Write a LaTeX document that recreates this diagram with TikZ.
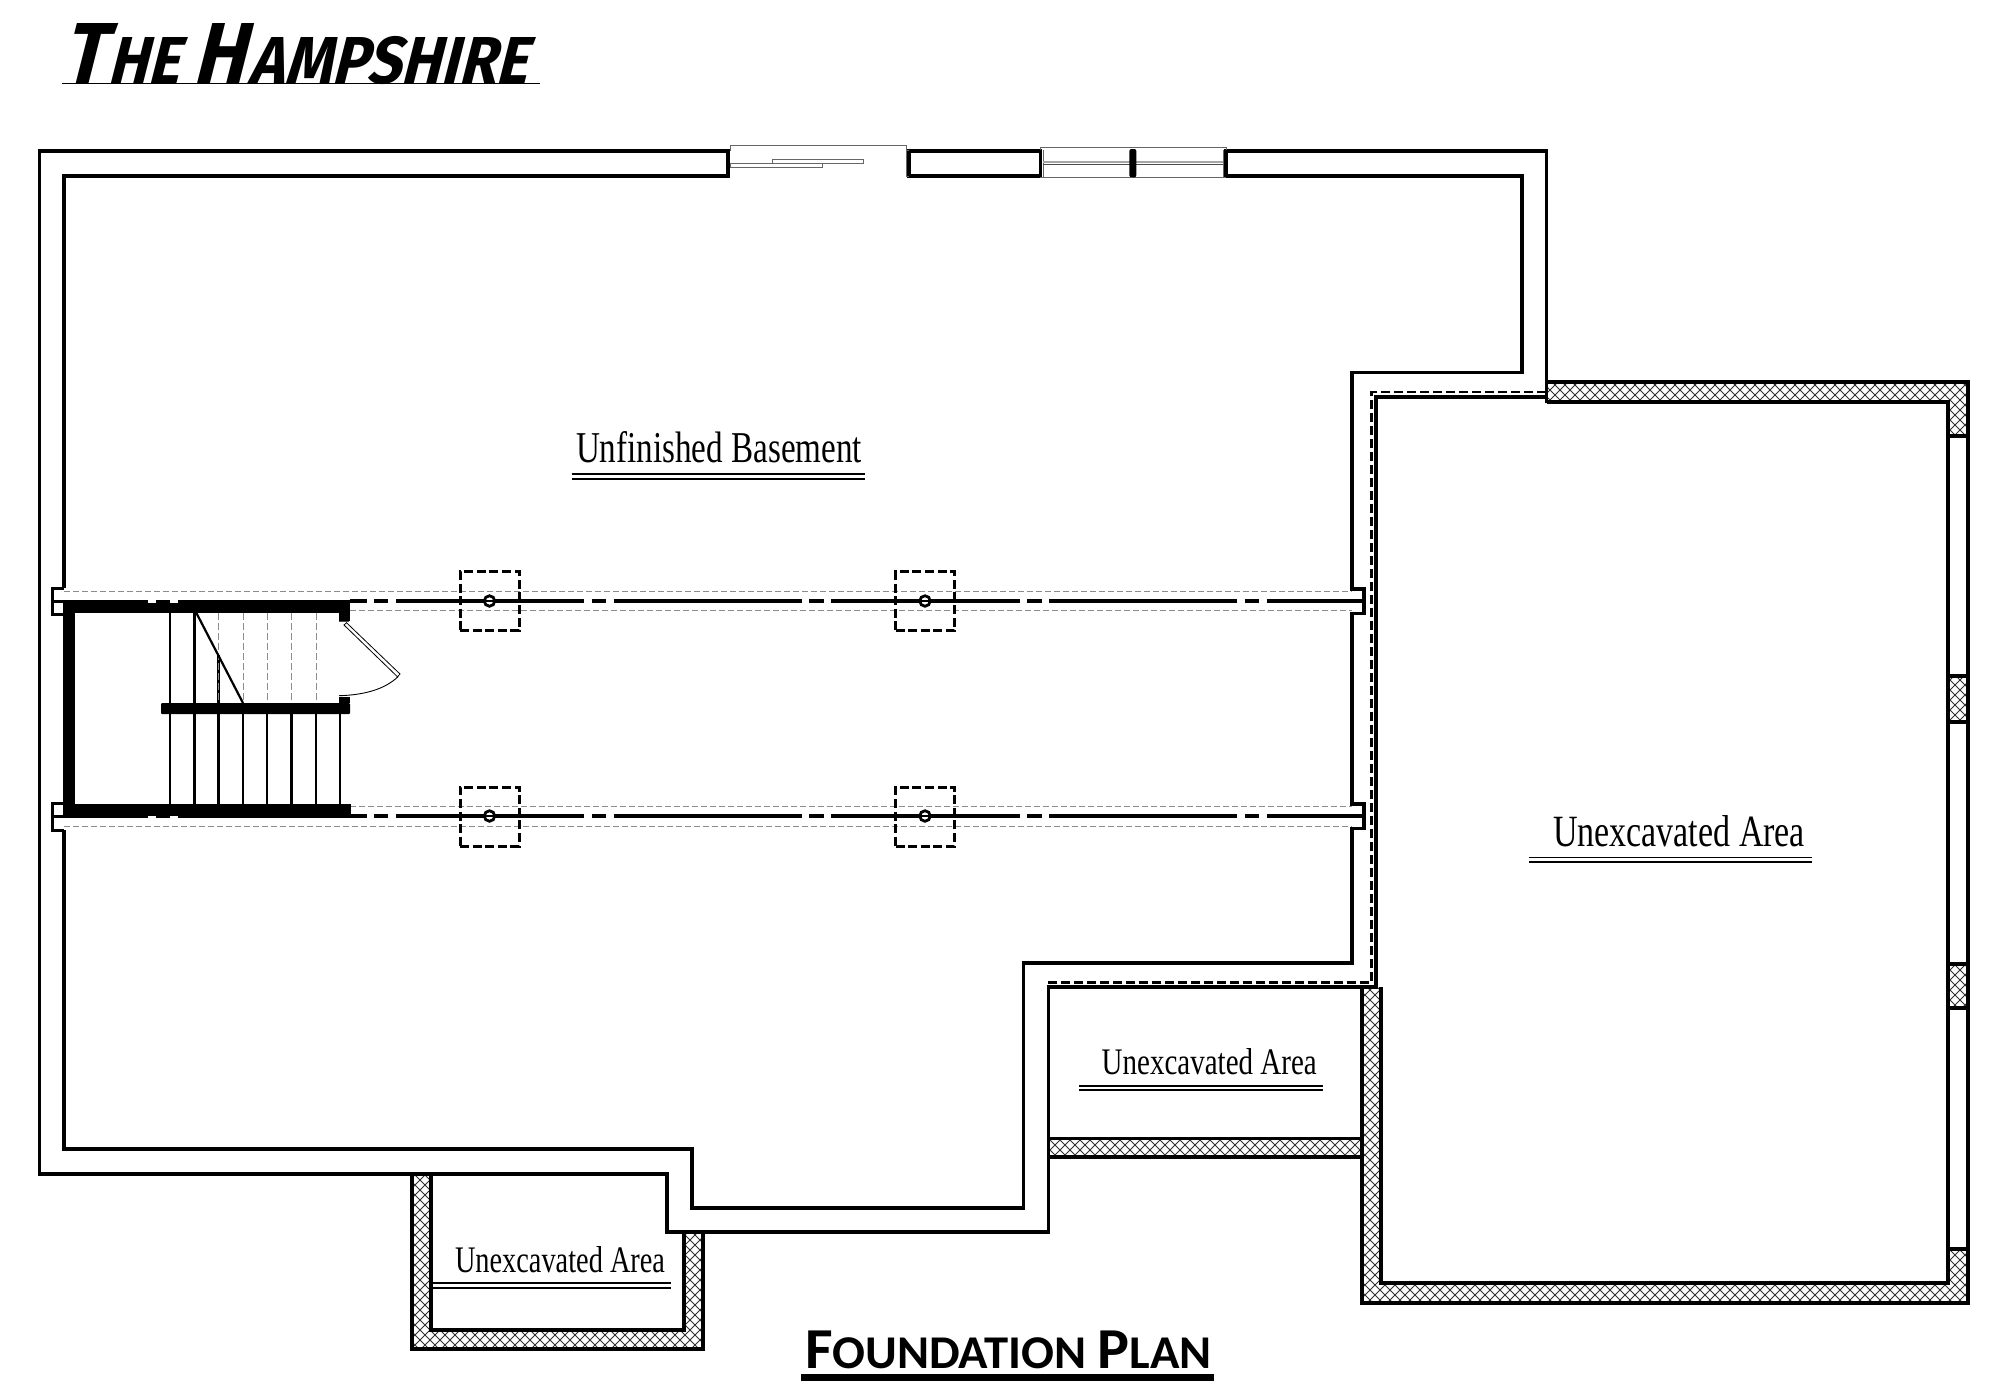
\documentclass[tikz,border=0pt]{standalone}
\usepackage{fontspec}
\setmainfont{Liberation Serif}
\newfontfamily\titlefont[FakeSlant=0.28]{Fira Sans}
\newfontfamily\planfont{Carlito}
\tikzset{
  wall/.style={line width=3.6pt,line join=miter,line cap=butt},
  thickcross/.style={line width=4.2pt},
  hatchline/.style={line width=0.9pt,black!80},
  thin grey/.style={line width=1pt,black!60},
  greydash/.style={line width=1pt,black!45,dash pattern=on 6pt off 3pt},
  beam/.style={line width=3.6pt,dash pattern=on 188.3pt off 7.4pt on 14.4pt off 7.6pt,dash phase=171.7pt},
  postbox/.style={draw,line width=3pt,dash pattern=on 9pt off 3.6pt,minimum width=59pt,minimum height=59pt,inner sep=0pt},
  postdot/.style={draw,circle,line width=2.8pt,minimum size=10.5pt,inner sep=0pt},
  bardark/.style={fill=black,draw=none},
  tread/.style={line width=2.9pt},
  uptread/.style={line width=1pt,black!45,dash pattern=on 7pt off 3pt},
  dbl/.style={line width=1.9pt},
  roomlabel/.style={anchor=base west,inner sep=0pt,outer sep=0pt},
}
\newcommand{\roomtext}[3]{\resizebox{#1pt}{#2pt}{#3}}
\begin{document}
\begin{tikzpicture}[x=1pt,y=-1pt]
\useasboundingbox (0,0) rectangle (2001,1398);
\fill[white] (0,0) rectangle (2001,1398);

% hatching
\begin{scope}
\clip (1546.5,381.7) rectangle (1968,401.7)
      (1948,401.7) rectangle (1968,436)
      (1948,675.7) rectangle (1968,721.7)
      (1948,963.6) rectangle (1968,1008)
      (1948,1249) rectangle (1968,1303)
      (1361.7,1283) rectangle (1968,1303)
      (1361.7,986.7) rectangle (1381,1303)
      (1048,1138.3) rectangle (1361.7,1156.7)
      (411.7,1174) rectangle (430.7,1349)
      (411.7,1330) rectangle (703,1349)
      (684,1232) rectangle (703,1349);
\foreach \d in {-1000,-990,...,2000}{
  \draw[hatchline] (\d,300) -- ({\d+1100},1400);
  \draw[hatchline] ({\d+1100},300) -- (\d,1400);
}
\end{scope}

% main foundation wall
\draw[wall] (64,588) -- (64,175.7) -- (728,175.7) -- (728,151) -- (39.6,151) -- (39.6,1174)
  -- (667,1174) -- (667,1232) -- (1048.3,1232) -- (1048.3,986.7) -- (1376,986.7) -- (1376,396.7)
  -- (1546.5,396.7);
\draw[wall] (1546.5,403.4) -- (1546.5,151) -- (1226,151) -- (1226,175.7) -- (1522,175.7) -- (1522,372.3)
  -- (1351.7,372.3) -- (1351.7,589) -- (1364,589) -- (1364,613.3) -- (1351.7,613.3)
  -- (1351.7,804) -- (1364,804) -- (1364,828.5) -- (1351.7,828.5)
  -- (1351.7,962.7) -- (1023.3,962.7) -- (1023.3,1207.7) -- (692,1207.7) -- (692,1149) -- (64,1149) -- (64,830);
\draw[wall] (909,151) rectangle (1040.6,175.7);

% beam pockets on the left
\draw[line width=3pt] (64,588) -- (52,588) -- (52,614) -- (62.5,614);
\draw[line width=3pt] (62.5,803) -- (52,803) -- (52,830) -- (64,830);
\draw[line width=3pt] (52,601) -- (62.5,601);
\draw[line width=3pt] (52,816) -- (62.5,816);

% unexcavated hatched walls
\draw[wall] (1546.5,381.7) -- (1968,381.7) -- (1968,1303) -- (1361.7,1303) -- (1361.7,986.7);
\draw[wall] (1546.5,401.7) -- (1948,401.7) -- (1948,1283) -- (1381,1283) -- (1381,986.7);
\foreach \yy in {436,675.7,721.7,963.6,1008,1249}{\draw[thickcross] (1948,\yy) -- (1968,\yy);}
\draw[wall] (1048.3,1138.3) -- (1361.7,1138.3);
\draw[wall] (1048.3,1156.7) -- (1361.7,1156.7);
\draw[wall] (411.7,1174) -- (411.7,1349) -- (703,1349) -- (703,1232);
\draw[wall] (430.7,1174) -- (430.7,1330) -- (684,1330) -- (684,1232);

% dashed footing line
\draw[line width=2.5pt,dash pattern=on 9pt off 4pt] (1546,392) -- (1371.7,392) -- (1371.7,982.3) -- (1048,982.3);

% sliding door
\draw[thin grey] (730,151) -- (730,145.3) -- (906,145.3) -- (906,176);
\draw[thin grey] (906,150) -- (909,150);
\draw[thin grey] (906,176) -- (909,176);
\draw[thin grey] (730,163) rectangle (822.5,167.3);
\draw[thin grey] (772.7,159.3) rectangle (863.8,163.7);

% window
\draw[thin grey] (1040,150) -- (1040,147.3) -- (1226,147.3) -- (1226,150);
\draw[thin grey] (1040,177.3) -- (1226,177.3);
\draw[thin grey] (1043,150) -- (1043,177);
\draw[thin grey] (1223,150) -- (1223,177);
\draw[line width=1.8pt,black!35] (1043,162.3) -- (1223,162.3);
\draw[line width=0.8pt,black!70] (1043,164.6) -- (1223,164.6);
\fill[black,rounded corners=2pt] (1129.4,149) rectangle (1136.3,177.3);

% grey beam outlines
\draw[greydash] (64,591) -- (1352,591);
\draw[greydash] (350,610.7) -- (1352,610.7);
\draw[greydash] (350,806) -- (1352,806);
\draw[greydash] (64,826) -- (1352,826);

% beams
\draw[beam] (350,601) -- (1361.7,601);
\draw[beam] (350,816) -- (1361.7,816);

% posts
\node[postbox] (boxa) at (489.5,601) {};
\node[postbox] (boxb) at (925,601) {};
\node[postbox] (boxc) at (489.5,816.5) {};
\node[postbox] (boxd) at (925,816.5) {};
\node[postdot,fill=white] (dota) at (489.5,601) {};
\node[postdot,fill=white] (dotb) at (925,601) {};
\node[postdot,fill=white] (dotc) at (489.5,816) {};
\node[postdot,fill=white] (dotd) at (925,816) {};
\draw[line width=2pt] (dota.west) -- (dota.east);
\draw[line width=2pt] (dotb.west) -- (dotb.east);
\draw[line width=2pt] (dotc.west) -- (dotc.east);
\draw[line width=2pt] (dotd.west) -- (dotd.east);

% stair enclosure
\fill[bardark] (62.5,600) rectangle (350,613);
\fill[bardark] (62.5,600) rectangle (75,818);
\fill[bardark] (62.5,804) rectangle (351,818);
\fill[bardark,rounded corners=1pt] (161,703) rectangle (350,714);
\fill[bardark] (339,613) rectangle (350,620.5);
\fill[bardark] (339,697) rectangle (350,703);
\fill[white] (148,600) rectangle (156,602.5);
\fill[white] (170,600) rectangle (177.5,602.5);
\fill[white] (148,815.5) rectangle (156,818);
\fill[white] (170,815.5) rectangle (177.5,818);

% treads
\foreach \xx in {170,194.3,218.6,243,267,291.4,316,340}{\draw[tread] (\xx,714) -- (\xx,804);}
\draw[tread] (170,613) -- (170,703);
\draw[tread] (194.3,613) -- (194.3,703);
\draw[tread] (218.6,655) -- (218.6,703);
\foreach \xx in {218.6,243,267,291.4,316}{\draw[uptread] (\xx,613) -- (\xx,703);}
\draw[line width=2.2pt] (196.4,613) -- (243,703);

% door
\draw[line width=0.8pt] (346.5,622.7) -- (400,674) -- (397.5,676.8) -- (344,625) -- cycle;
\draw[line width=0.8pt,black!70] (339,621.5) -- (349,621.5);
\draw[line width=0.9pt] (339,695.7) .. controls (365,695) and (385,689) .. (398,676.7);

% labels
\node[roomlabel] (basement) at (576,462.5) {\roomtext{286}{31}{Unfinished Basement}};
\draw[dbl] (571.7,474.3) -- (865,474.3);
\draw[dbl] (571.7,479.3) -- (865,479.3);
\node[roomlabel] (areabig) at (1553,846) {\roomtext{252}{31}{Unexcavated Area}};
\draw[dbl] (1529,857.5) -- (1812,857.5);
\draw[dbl] (1529,862) -- (1812,862);
\node[roomlabel] (areamid) at (1101.7,1074) {\roomtext{215}{26}{Unexcavated Area}};
\draw[dbl] (1079,1085.7) -- (1322.7,1085.7);
\draw[dbl] (1079,1090) -- (1322.7,1090);
\node[roomlabel] (areasmall) at (455,1272.5) {\roomtext{210}{26}{Unexcavated Area}};
\draw[dbl] (433,1283) -- (670.7,1283);
\draw[dbl] (433,1287.7) -- (670.7,1287.7);

% title
\node[roomlabel] (title) at (61,83) {\resizebox{466pt}{60pt}{\titlefont\bfseries\fontsize{60}{60}\selectfont T\kern3pt\fontsize{46}{46}\selectfont HE\ \fontsize{60}{60}\selectfont H\kern3pt\fontsize{46}{46}\selectfont AMPSHIRE}};
\draw[line width=1.5pt] (62,83.5) -- (540,83.5);

% plan label
\node[roomlabel] (plan) at (805,1368.3) {\resizebox{406.7pt}{37.6pt}{\planfont\bfseries\fontsize{58}{58}\selectfont F\fontsize{47}{47}\selectfont OUNDATION\ \fontsize{58}{58}\selectfont P\fontsize{47}{47}\selectfont LAN}};
\fill[black] (801,1374) rectangle (1214,1380.7);
\end{tikzpicture}
\end{document}
